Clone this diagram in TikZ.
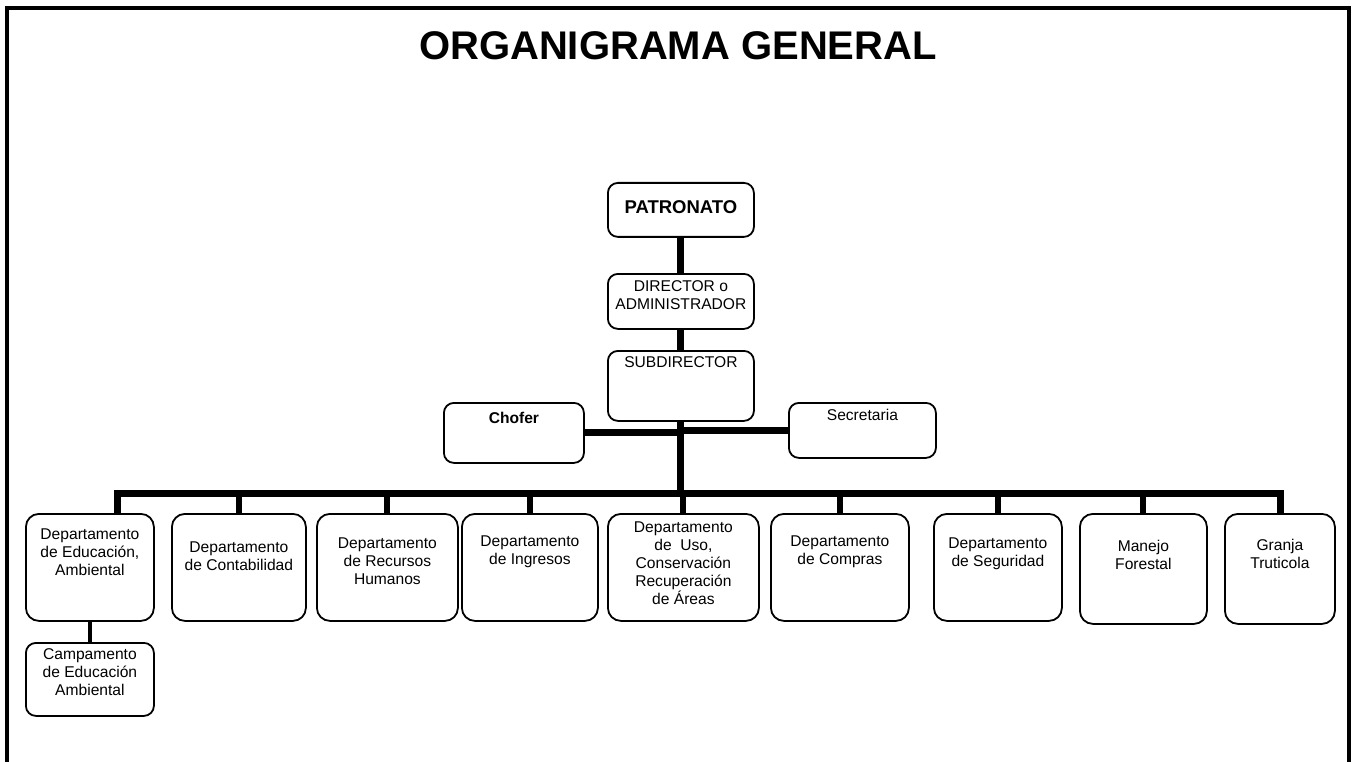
\documentclass[tikz,border=0pt]{standalone}
\usepackage{fontspec}
\setmainfont{Liberation Sans}

\begin{document}
\begin{tikzpicture}[x=1pt,y=-1pt,
	box/.style={draw, line width=1.8pt, rounded corners=10pt, anchor=north west, inner sep=0pt},
	dept/.style={box, rounded corners=13pt, minimum height=107},
	txt/.style={font=\fontsize{15.6}{18}\selectfont, align=center, inner sep=0pt},
	link/.style={line width=7pt},
	drop/.style={line width=6pt}]
\useasboundingbox (0,0) rectangle (1352,762);
\draw[line width=3.5pt] (7,762) -- (7,8) -- (1349,8) -- (1349,762);
\node[font=\fontsize{40}{48}\selectfont\bfseries] (titulo) at (678,46) {ORGANIGRAMA GENERAL};

\node[box, minimum width=146, minimum height=54, label={[txt, font=\fontsize{18.5}{22}\selectfont\bfseries, below=18pt]north:PATRONATO}] (patronato) at (607,182) {};
\node[box, minimum width=146, minimum height=55, label={[txt, below=7pt]north:{DIRECTOR o\\ADMINISTRADOR}}] (director) at (607,273) {};
\node[box, minimum width=146, minimum height=70, label={[txt, below=6pt]north:SUBDIRECTOR}] (subdir) at (607,350) {};
\node[box, minimum width=140, minimum height=60, label={[txt, font=\fontsize{15.6}{18}\selectfont\bfseries, below=10pt]north:Chofer}] (chofer) at (443,402) {};
\node[box, minimum width=147, minimum height=55, label={[txt, below=7pt]north:Secretaria}] (secretaria) at (788,402) {};

\node[dept, minimum width=128, label={[txt, below=16pt]north:{Departamento\\de Educación,\\Ambiental}}] (edu) at (25,513) {};
\node[dept, minimum width=134, label={[txt, below=29pt]north:{Departamento\\de Contabilidad}}] (conta) at (171,513) {};
\node[dept, minimum width=141, label={[txt, below=25pt]north:{Departamento\\de Recursos\\Humanos}}] (rrhh) at (316,513) {};
\node[dept, minimum width=136, label={[txt, below=23pt]north:{Departamento\\de Ingresos}}] (ingresos) at (461,513) {};
\node[dept, minimum width=151, label={[txt, below=9pt]north:{Departamento\\de~ Uso,\\Conservación\\Recuperación\\de Áreas}}] (uso) at (607,513) {};
\node[dept, minimum width=138, label={[txt, below=23pt]north:{Departamento\\de Compras}}] (compras) at (770,513) {};
\node[dept, minimum width=128, label={[txt, below=25pt]north:{Departamento\\de Seguridad}}] (seguridad) at (933,513) {};
\node[dept, minimum width=127, minimum height=110, label={[txt, below=27pt]north:{Manejo\\Forestal}}] (forestal) at (1079,513) {};
\node[dept, minimum width=110, minimum height=110, label={[txt, below=26pt]north:{Granja\\Truticola}}] (granja) at (1224,513) {};
\node[box, minimum width=128, minimum height=73, label={[txt, below=6pt]north:{Campamento\\de Educación\\Ambiental}}] (campamento) at (25,642) {};

\coordinate (busL) at (117,493);
\coordinate (busR) at (1280,493);
\draw[link] (patronato) -- (director);
\draw[link] (director) -- (subdir);
\draw[link] (subdir.south) -- (subdir.south |- busL);
\draw[link] (chofer.east) -- (chofer.east -| subdir.south);
\draw[link] (secretaria.west) -- (secretaria.west -| subdir.south);
\draw[link] (busL |- edu.north) -- (busL) -- (busR) -- (busR |- granja.north);
\foreach \n in {conta,rrhh,ingresos,uso,compras,seguridad,forestal}
	\draw[drop] (\n.north) -- (\n.north |- busL);
\draw[line width=4.5pt] (edu) -- (campamento);
\end{tikzpicture}
\end{document}
